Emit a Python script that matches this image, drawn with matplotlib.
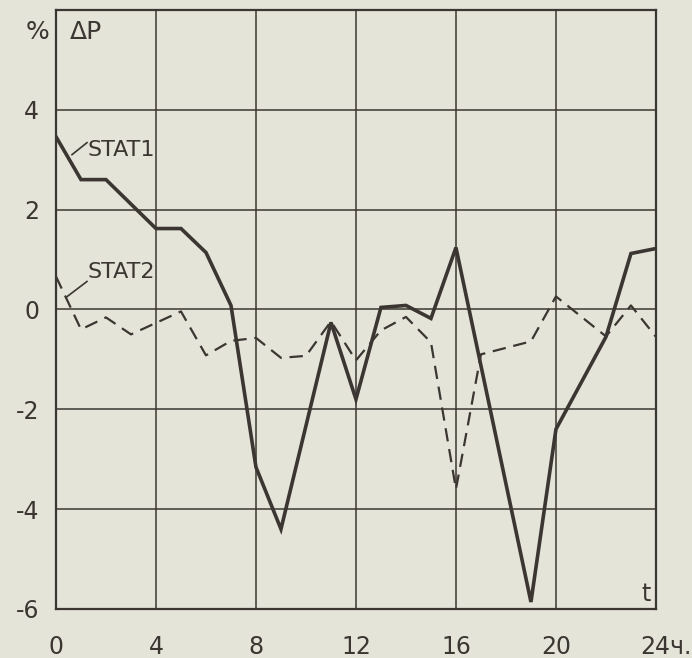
import matplotlib
matplotlib.use("Agg")
import matplotlib.pyplot as plt

# hours where each curve has a visible break point
stat1_t = [0, 1, 2, 4, 5, 6, 7, 8, 9, 11, 12, 13, 14, 15, 16, 19, 20, 22, 23, 24]
stat1_dp = [3.46, 2.6, 2.6, 1.62, 1.62, 1.14, 0.08, -3.16, -4.4, -0.26, -1.8,
            0.04, 0.08, -0.18, 1.24, -5.86, -2.4, -0.55, 1.12, 1.22]

stat2_t = [0, 1, 2, 3, 5, 6, 7, 8, 9, 10, 11, 12, 13, 14, 15, 16, 17, 19, 20, 22, 23, 24]
stat2_dp = [0.66, -0.4, -0.16, -0.5, -0.04, -0.92, -0.63, -0.57, -0.97, -0.93, -0.24,
            -1.02, -0.42, -0.15, -0.66, -3.6, -0.9, -0.64, 0.26, -0.54, 0.08, -0.55]

x_ticks = [0, 4, 8, 12, 16, 20, 24]
x_labels = ["0", "4", "8", "12", "16", "20", ""]
y_ticks = [-6, -4, -2, 0, 2, 4]

paper = "#e4e4d9"
ink = "#3b3631"

plt.rcParams["font.family"] = ["DejaVu Sans"]
plt.rcParams["axes.unicode_minus"] = False

fig = plt.figure(figsize=(6.92, 6.58), dpi=100, facecolor=paper)
ax = fig.add_axes([0.0809, 0.0745, 0.867, 0.9105], facecolor=paper)

ax.set_xlim(0, 24)
ax.set_ylim(-6, 6)
ax.set_xticks(x_ticks)
ax.set_xticklabels(x_labels)
ax.set_yticks(y_ticks)
ax.tick_params(length=0, labelsize=17, colors=ink)
ax.tick_params(axis="x", pad=19)
ax.tick_params(axis="y", pad=12)

ax.grid(True, color=ink, lw=1.1)
for s in ax.spines.values():
    s.set_color(ink)
    s.set_linewidth(1.6)

ax.plot(stat1_t, stat1_dp, color=ink, lw=2.6, solid_joinstyle="miter")
ax.plot(stat2_t, stat2_dp, color=ink, lw=1.6, dashes=(6, 3.5))

# curve labels with leader strokes
ax.plot([0.64, 1.24], [3.1, 3.34], color=ink, lw=1.2)
ax.text(1.28, 3.2, "STAT1", fontsize=16, color=ink, va="center", ha="left")
ax.plot([0.4, 1.24], [0.24, 0.56], color=ink, lw=1.2)
ax.text(1.28, 0.74, "STAT2", fontsize=16, color=ink, va="center", ha="left")

ax.text(0.56, 5.55, "ΔP", fontsize=18, color=ink, va="center", ha="left")
ax.text(-0.25, 5.55, "%", fontsize=18, color=ink, va="center", ha="right", clip_on=False)
ax.text(23.6, -5.7, "t", fontsize=17, color=ink, va="center", ha="center")
ax.annotate("24ч.", xy=(24, 0), xycoords=("data", "axes fraction"),
            xytext=(-11, -19), textcoords="offset points",
            fontsize=17, color=ink, ha="left", va="top", annotation_clip=False)

fig.savefig("out.png", dpi=100, facecolor=paper)
